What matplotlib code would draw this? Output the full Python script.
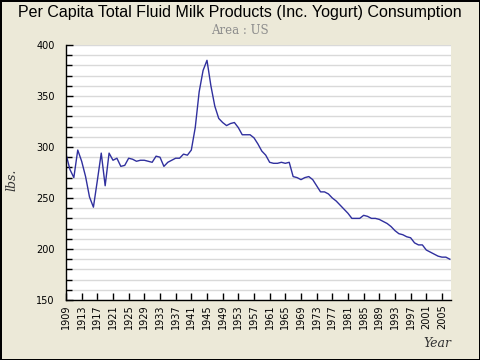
# Per capita fluid milk consumption, US

import numpy as np
import matplotlib.pyplot as plt
from matplotlib.ticker import MultipleLocator

years = list(range(1909, 2008))
lbs = [293, 278, 270, 297, 286, 271, 251, 241, 267, 294,
       262, 294, 287, 289, 281, 282, 289, 288, 286, 287,
       287, 286, 285, 291, 290, 281, 285, 287, 289, 289,
       293, 292, 297, 319, 354, 375, 385, 360, 340, 328,
       324, 321, 323, 324, 319, 312, 312, 312, 309, 303,
       296, 292, 285, 284, 284, 285, 284, 285, 271, 270,
       268, 270, 271, 268, 262, 256, 256, 254, 250, 247,
       243, 239, 235, 230, 230, 230, 233, 232, 230, 230,
       229, 227, 225, 222, 218, 215, 214, 212, 211, 206,
       204, 204, 199, 197, 195, 193, 192, 192, 190]
tick_years = list(range(1909, 2006, 4))

bg = '#ECE9D8'
fig = plt.figure(figsize=(4.8, 3.6), dpi=100, facecolor=bg,
                 edgecolor='black', linewidth=1.0)
ax = fig.add_axes([0.1375, 0.1667, 0.802, 0.7083])
ax.set_facecolor('white')

ax.plot(years, lbs, color='#30309E', linewidth=1.0)

ax.set_xlim(1909, 2007.3)
ax.set_ylim(150, 400)
ax.yaxis.set_major_locator(MultipleLocator(50))
ax.yaxis.set_minor_locator(MultipleLocator(10))
ax.set_xticks(tick_years)
ax.set_xticklabels([str(y) for y in tick_years], rotation=90)

ax.grid(axis='y', which='both', color='#D9D9D9', linewidth=1.0)
ax.set_axisbelow(True)
for s in ['top', 'right']:
    ax.spines[s].set_visible(False)
for s in ['left', 'bottom']:
    ax.spines[s].set_color('black')
    ax.spines[s].set_linewidth(1.0)

ax.tick_params(axis='both', which='both', direction='in', colors='black',
               labelsize=7, width=1)
ax.tick_params(axis='y', which='major', length=5, pad=8)
ax.tick_params(axis='y', which='minor', length=4)
ax.tick_params(axis='x', which='major', length=5, pad=3)

fig.text(0.5, 0.965, 'Per Capita Total Fluid Milk Products (Inc. Yogurt) Consumption',
         ha='center', va='center', fontsize=11.5, family='Liberation Sans')
fig.text(0.5, 0.915, 'Area : US', ha='center', va='center', fontsize=8.5,
         family='DejaVu Serif', color='#8C8C8C')
fig.text(0.025, 0.5, 'lbs.', rotation=90, ha='center', va='center', fontsize=9,
         family='DejaVu Serif', style='italic', color='#333333')
fig.text(0.94, 0.045, 'Year', ha='right', va='center', fontsize=9,
         family='DejaVu Serif', style='italic', color='#333333')

fig.savefig('out.png', dpi=100, facecolor=bg, edgecolor='black')
